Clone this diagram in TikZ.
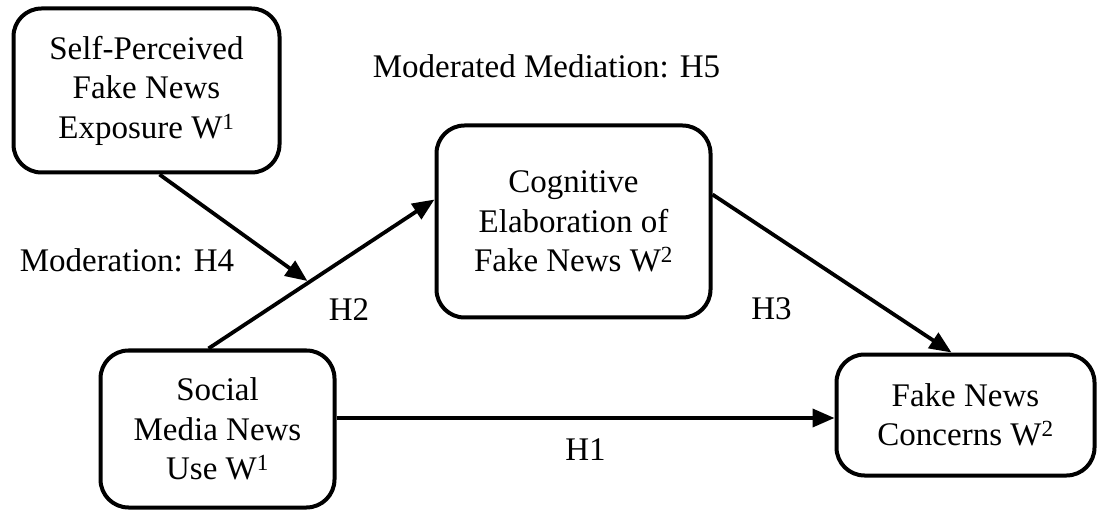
\documentclass[tikz,border=0pt]{standalone}
\usepackage{fontspec}
\setmainfont{Liberation Serif}
\usetikzlibrary{arrows.meta}
\begin{document}
\begin{tikzpicture}[x=1pt,y=-1pt,
  box/.style={draw, line width=4pt, rounded corners=28pt, align=center,
    inner sep=0pt, font=\fontsize{33}{39.5}\selectfont},
  lbl/.style={anchor=base, inner sep=0pt, font=\fontsize{33}{39.5}\selectfont},
  arr/.style={line width=3.8pt, -{Triangle[length=22pt,width=18pt]}}]
\useasboundingbox (0,0) rectangle (1097,510);
\node[box, minimum width=266pt, minimum height=164pt] (self) at (146.5,90.5)
  {Self-Perceived\\Fake News\\Exposure W\textsuperscript{1}};
\node[box, minimum width=274pt, minimum height=192pt] (cog) at (573.5,221.5)
  {Cognitive\\Elaboration of\\Fake News W\textsuperscript{2}};
\node[box, minimum width=234pt, minimum height=157pt] (soc) at (217.5,429)
  {Social\\Media News\\Use W\textsuperscript{1}};
\node[box, minimum width=258pt, minimum height=121pt] (conc) at (965.5,415)
  {Fake News\\Concerns W\textsuperscript{2}};
\node[lbl] (h5) at (546.5,78) {Moderated Mediation: H5};
\node[lbl] (h4) at (127,272) {Moderation: H4};
\node[lbl] (h2) at (349,321) {H2};
\node[lbl] (h3) at (771.5,320) {H3};
\node[lbl] (h1) at (585.5,460) {H1};
\draw[arr] ([xshift=110pt]soc.north west) -- ([yshift=-76pt]cog.north west)
  coordinate[pos=0.445] (mid);
\draw[arr, shorten >=2pt] ([xshift=148pt]self.south west) -- (mid);
\draw[arr] ([yshift=-71pt]cog.north east) -- ([xshift=117pt]conc.north west);
\draw[arr] ([yshift=11pt]soc.east) -- ([yshift=11pt]soc.east -| conc.west);
\end{tikzpicture}
\end{document}
